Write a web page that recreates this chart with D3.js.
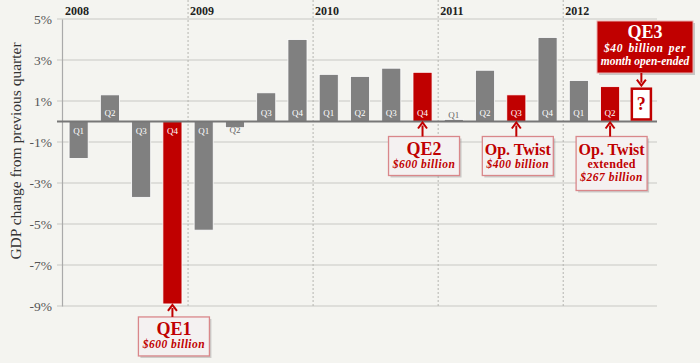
<!DOCTYPE html>
<html><head><meta charset="utf-8">
<script src="https://cdn.jsdelivr.net/npm/d3@7"></script>
<style>
html,body{margin:0;padding:0;background:#f4f4f0;}
</style></head><body>
<svg id="c" width="700" height="363" font-family="Liberation Serif, DejaVu Serif, serif"></svg>
<script>
// ---- data ----
const years = ["2008","2009","2010","2011","2012"];
const periods = ["2008Q1","2008Q2","2008Q3","2008Q4","2009Q1","2009Q2","2009Q3","2009Q4",
  "2010Q1","2010Q2","2010Q3","2010Q4","2011Q1","2011Q2","2011Q3","2011Q4","2012Q1","2012Q2","2012Q3"];
const quarterLabels = ["Q1","Q2","Q3","Q4","Q1","Q2","Q3","Q4","Q1","Q2","Q3","Q4","Q1","Q2","Q3","Q4","Q1","Q2"];
const gdpChange = [-1.8,1.3,-3.7,-8.9,-5.3,-0.3,1.4,4.0,2.3,2.2,2.6,2.4,0.1,2.5,1.3,4.1,2.0,1.7];
const fedAction = [0,0,0,1,0,0,0,0,0,0,0,1,0,0,1,0,0,1];
const yTicks = [5,3,1,-1,-3,-5,-7,-9];
const pendingPeriod = "2012Q3";
const pendingRange = [0.1,1.6];
const programs = [
  {period:"2008Q4", title:"QE1", lines:[{t:"$600 billion",i:true}]},
  {period:"2010Q4", title:"QE2", lines:[{t:"$600 billion",i:true}]},
  {period:"2011Q3", title:"Op. Twist", lines:[{t:"$400 billion",i:true}]},
  {period:"2012Q2", title:"Op. Twist", lines:[{t:"extended",i:false},{t:"$267 billion",i:true}]}
];
const qe3 = {title:"QE3", lines:["$40 billion per","month open-ended"]};

// ---- chart ----
const FONT = "Liberation Serif, DejaVu Serif, serif";
const RED = "#c00000", GRAY = "#808080";
const svg = d3.select("#c");
const x = d3.scaleBand().domain(periods).range([63,657]).paddingInner(0.39).paddingOuter(0.195);
const y = d3.scaleLinear().domain([-9,5]).range([306,19]);
const bandStart = p => x(p) - x.step()*0.195;

// gridlines
svg.append("g").selectAll("line").data(yTicks).join("line")
  .attr("x1",57).attr("x2",657).attr("y1",d=>y(d)).attr("y2",d=>y(d))
  .attr("stroke","#c8c8c4").attr("stroke-width",1.2);

// year separators
svg.append("g").selectAll("line").data(years.slice(1)).join("line")
  .attr("x1",d=>bandStart(d+"Q1")).attr("x2",d=>bandStart(d+"Q1"))
  .attr("y1",0).attr("y2",y(-9))
  .attr("stroke","#b5b5b0").attr("stroke-width",1).attr("stroke-dasharray","2,2");

// y axis
const ya = svg.append("g").attr("transform","translate(62,0)")
  .call(d3.axisLeft(y).tickValues(yTicks).tickSize(0).tickPadding(10).tickFormat(d=>d+"%"));
ya.attr("font-family",FONT);
ya.select(".domain").attr("stroke","#aaa").attr("stroke-width",1.2);
ya.selectAll("text").attr("font-size",13.5).attr("fill","#555").attr("font-family",FONT);

// axis title
svg.append("text").attr("transform","translate(21,151) rotate(-90)")
  .attr("text-anchor","middle").attr("font-size",15.5).attr("fill","#333").attr("font-family",FONT)
  .text("GDP change from previous quarter");

// year labels
svg.append("g").selectAll("text").data(years).join("text")
  .attr("x",d=>bandStart(d+"Q1")+2).attr("y",15).attr("font-family",FONT)
  .attr("font-size",12).attr("font-weight","bold").attr("fill","#222").text(d=>d);

// bars
const bars = periods.slice(0,gdpChange.length).map((p,i)=>({p,v:gdpChange[i],q:quarterLabels[i],red:fedAction[i]}));
svg.append("g").selectAll("rect").data(bars).join("rect")
  .attr("x",d=>x(d.p)).attr("width",x.bandwidth())
  .attr("y",d=>y(Math.max(0,d.v))).attr("height",d=>Math.abs(y(d.v)-y(0)))
  .attr("fill",d=>d.red?RED:GRAY).attr("stroke","#fff").attr("stroke-width",0.8);

// zero line
svg.append("line").attr("x1",57).attr("x2",657).attr("y1",y(0)).attr("y2",y(0))
  .attr("stroke","#777").attr("stroke-width",2);

// quarter labels
svg.append("g").selectAll("text").data(bars).join("text")
  .attr("x",d=>x(d.p)+x.bandwidth()/2)
  .attr("y",d=>Math.abs(d.v)<0.5 ? (d.v>0? y(0)-4 : y(0)+11) : (d.v>0? y(0)-6 : y(0)+12))
  .attr("text-anchor","middle").attr("font-size",9).attr("font-family",FONT)
  .attr("fill",d=>Math.abs(d.v)<0.5?"#666":"#fff").text(d=>d.q);

// pending box
const px = x(pendingPeriod), pw = x.bandwidth();
svg.append("rect").attr("x",px).attr("width",pw)
  .attr("y",y(pendingRange[1])).attr("height",y(pendingRange[0])-y(pendingRange[1]))
  .attr("fill","#fff").attr("stroke",RED).attr("stroke-width",2.5);
svg.append("text").attr("x",px+pw/2).attr("y",(y(pendingRange[0])+y(pendingRange[1]))/2+6)
  .attr("text-anchor","middle").attr("font-size",18).attr("font-weight","bold").attr("font-family",FONT)
  .attr("fill",RED).text("?");

// arrow helper
function arrow(ax, yFrom, yTo, dir){
  svg.append("line").attr("x1",ax).attr("x2",ax).attr("y1",yFrom).attr("y2",yTo+(dir<0?3:-3))
    .attr("stroke",RED).attr("stroke-width",2);
  svg.append("path").attr("d",`M${ax-4.5},${yTo-dir*6}L${ax},${yTo}L${ax+4.5},${yTo-dir*6}`)
    .attr("fill","none").attr("stroke",RED).attr("stroke-width",2);
}

// program annotation boxes
programs.forEach(pr=>{
  const b = bars.find(d=>d.p===pr.period);
  const cx = x(pr.period)+x.bandwidth()/2+1.5;
  const barEnd = b.v<0 ? y(b.v) : y(0);
  const top = barEnd + (b.v<0?13:15);
  const w = 71, h = pr.lines.length>1 ? 54 : 39;
  const g = svg.append("g").attr("font-family",FONT);
  g.append("rect").attr("x",cx-w/2+2).attr("y",top+2).attr("width",w).attr("height",h)
    .attr("fill","#999").attr("opacity",0.45);
  g.append("rect").attr("x",cx-w/2).attr("y",top).attr("width",w).attr("height",h)
    .attr("fill","#f4f1f1").attr("stroke","#d9878a").attr("stroke-width",1.3);
  g.append("text").attr("x",cx).attr("y",top+18).attr("text-anchor","middle")
    .attr("font-size",pr.title.length>4?16:18).attr("font-weight","bold").attr("fill",RED).text(pr.title);
  pr.lines.forEach((l,i)=>{
    g.append("text").attr("x",cx).attr("y",top+31+i*13.5).attr("text-anchor","middle")
      .attr("font-size",l.i?11.5:12).attr("font-weight","bold").attr("font-style",l.i?"italic":"normal")
      .attr("letter-spacing",l.i?0.5:0.3)
      .attr("fill",RED).text(l.t);
  });
  arrow(cx-1.5, top, barEnd+1, -1);
});

// QE3 box
const qx = 597, qy = 21, qw = 96, qh = 52;
const gq = svg.append("g").attr("font-family",FONT);
gq.append("rect").attr("x",qx+2).attr("y",qy+2).attr("width",qw).attr("height",qh).attr("fill","#999").attr("opacity",0.5);
gq.append("rect").attr("x",qx).attr("y",qy).attr("width",qw).attr("height",qh)
  .attr("fill",RED).attr("stroke","#e8b0b0").attr("stroke-width",1);
gq.append("text").attr("x",qx+qw/2).attr("y",qy+17).attr("text-anchor","middle")
  .attr("font-size",18).attr("font-weight","bold").attr("fill","#fff").text(qe3.title);
qe3.lines.forEach((t,i)=>gq.append("text").attr("x",qx+qw/2).attr("y",qy+31+i*12.5)
  .attr("text-anchor","middle").attr("font-size",11.5).attr("font-weight","bold").attr("font-style","italic")
  .attr("letter-spacing",i===0?0.6:0).attr("word-spacing",i===0?2:0)
  .attr("fill","#fff").text(t));
arrow(px+pw/2, qy+qh, y(pendingRange[1])-3, 1);
</script></body></html>
